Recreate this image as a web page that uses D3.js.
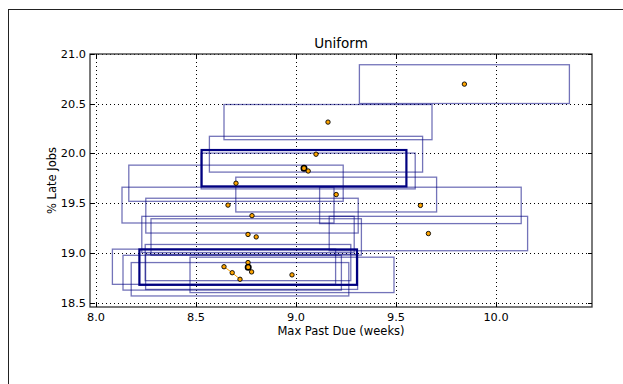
<!DOCTYPE html>
<html>
<head>
<meta charset="utf-8">
<script src="https://cdn.jsdelivr.net/npm/d3@7"></script>
<style>
  html, body { margin: 0; padding: 0; background: #fff; }
  svg { display: block; }
  text { font-family: "DejaVu Sans", sans-serif; fill: #000; }
</style>
</head>
<body>
<svg id="chart" width="623" height="384"></svg>
<script>
// Per-run means and their interval half-widths
const maxPastDue = [9.842, 9.160, 9.100, 9.040, 9.061, 8.700, 9.201, 8.660, 9.622, 8.780,
                    8.760, 8.801, 9.662, 8.760, 8.761, 8.640, 8.681, 8.720, 8.778, 8.980];
const lateJobs   = [20.697, 20.315, 19.992, 19.851, 19.823, 19.700, 19.586, 19.480, 19.477, 19.374,
                    19.185, 19.160, 19.194, 18.902, 18.856, 18.860, 18.800, 18.734, 18.808, 18.778];
const xErr       = [0.525, 0.520, 0.533, 0.512, 0.535, 0.536, 0.502, 0.530, 0.504, 0.531,
                    0.531, 0.526, 0.496, 0.514, 0.544, 0.558, 0.546, 0.544, 0.530, 0.510];
const yErr       = [0.195, 0.177, 0.180, 0.183, 0.180, 0.182, 0.175, 0.180, 0.183, 0.175,
                    0.182, 0.183, 0.173, 0.182, 0.178, 0.177, 0.175, 0.168, 0.176, 0.178];
// Highlighted runs and the connected path
const highlighted = [3, 14];
const pathRuns = [15, 16, 17];

const xTicks = [8.0, 8.5, 9.0, 9.5, 10.0];
const yTicks = [18.5, 19.0, 19.5, 20.0, 20.5, 21.0];
const xDomain = [7.97, 10.48];
const yDomain = [18.455, 21.0];

const titleText = "Uniform";
const xLabel = "Max Past Due (weeks)";
const yLabel = "% Late Jobs";

const svg = d3.select("#chart");
const plotL = 90, plotR = 592, plotT = 54, plotB = 307;

const x = d3.scaleLinear().domain(xDomain).range([plotL, plotR]);
const y = d3.scaleLinear().domain(yDomain).range([plotB, plotT]);

// Figure frame
svg.append("rect")
  .attr("x", 8.5).attr("y", 9.5).attr("width", 640).attr("height", 400)
  .attr("fill", "none").attr("stroke", "#222").attr("stroke-width", 1);

// Grid
const grid = svg.append("g");
grid.selectAll(".gx").data(xTicks).join("line")
  .attr("x1", d => Math.round(x(d)) + 0.5).attr("x2", d => Math.round(x(d)) + 0.5)
  .attr("y1", plotT).attr("y2", plotB)
  .attr("stroke", "#000").attr("stroke-width", 1).attr("stroke-dasharray", "1,3");
grid.selectAll(".gy").data(yTicks).join("line")
  .attr("y1", d => Math.round(y(d)) + 0.5).attr("y2", d => Math.round(y(d)) + 0.5)
  .attr("x1", plotL).attr("x2", plotR)
  .attr("stroke", "#000").attr("stroke-width", 1).attr("stroke-dasharray", "1,3");

// Interval boxes
const idx = d3.range(maxPastDue.length);
const boxX = i => x(maxPastDue[i] - xErr[i]);
const boxY = i => y(lateJobs[i] + yErr[i]);
const boxW = i => x(maxPastDue[i] + xErr[i]) - x(maxPastDue[i] - xErr[i]);
const boxH = i => y(lateJobs[i] - yErr[i]) - y(lateJobs[i] + yErr[i]);
const boxes = svg.append("g");
boxes.selectAll("rect.thin").data(idx.filter(i => !highlighted.includes(i))).join("rect")
  .attr("x", boxX).attr("y", boxY).attr("width", boxW).attr("height", boxH)
  .attr("fill", "none").attr("stroke", "#000080").attr("stroke-opacity", 0.55)
  .attr("stroke-width", 1.3);
boxes.selectAll("rect.thick").data(highlighted).join("rect")
  .attr("x", boxX).attr("y", boxY).attr("width", boxW).attr("height", boxH)
  .attr("fill", "none").attr("stroke", "#000080").attr("stroke-width", 2.2);

// Connected path
svg.append("path")
  .datum(pathRuns)
  .attr("d", d3.line().x(i => x(maxPastDue[i])).y(i => y(lateJobs[i])))
  .attr("fill", "none").attr("stroke", "#ffa500").attr("stroke-width", 1);

// Points
svg.append("g").selectAll("circle").data(idx).join("circle")
  .attr("cx", i => x(maxPastDue[i])).attr("cy", i => y(lateJobs[i]))
  .attr("r", i => highlighted.includes(i) ? 2.7 : 2.2)
  .attr("fill", "#ffa500").attr("stroke", "#000")
  .attr("stroke-width", i => highlighted.includes(i) ? 1.6 : 0.9);

// Spines
svg.append("rect")
  .attr("x", plotL).attr("y", plotT).attr("width", plotR - plotL).attr("height", plotB - plotT)
  .attr("fill", "none").attr("stroke", "#333").attr("stroke-width", 1.3);

// Inward ticks on all four sides
const tk = svg.append("g").attr("stroke", "#000").attr("stroke-width", 1);
xTicks.forEach(t => {
  const px = Math.round(x(t)) + 0.5;
  tk.append("line").attr("x1", px).attr("x2", px).attr("y1", plotB).attr("y2", plotB - 4);
  tk.append("line").attr("x1", px).attr("x2", px).attr("y1", plotT).attr("y2", plotT + 4);
});
yTicks.forEach(t => {
  const py = Math.round(y(t)) + 0.5;
  tk.append("line").attr("y1", py).attr("y2", py).attr("x1", plotL).attr("x2", plotL + 4);
  tk.append("line").attr("y1", py).attr("y2", py).attr("x1", plotR).attr("x2", plotR - 4);
});

// Tick labels
svg.append("g").selectAll("text").data(xTicks).join("text")
  .attr("x", d => x(d)).attr("y", 321)
  .attr("text-anchor", "middle").attr("font-size", 11.3)
  .text(d => d3.format(".1f")(d));
svg.append("g").selectAll("text").data(yTicks).join("text")
  .attr("x", 86).attr("y", d => y(d) + 4)
  .attr("text-anchor", "end").attr("font-size", 11.3)
  .text(d => d3.format(".1f")(d));

// Title and axis labels
svg.append("text").attr("x", (plotL + plotR) / 2).attr("y", 48)
  .attr("text-anchor", "middle").attr("font-size", 13.5).text(titleText);
svg.append("text").attr("x", (plotL + plotR) / 2).attr("y", 335)
  .attr("text-anchor", "middle").attr("font-size", 11.5).text(xLabel);
svg.append("text")
  .attr("transform", `translate(56,${(plotT + plotB) / 2}) rotate(-90)`)
  .attr("text-anchor", "middle").attr("font-size", 11.5).text(yLabel);
</script>
</body>
</html>
